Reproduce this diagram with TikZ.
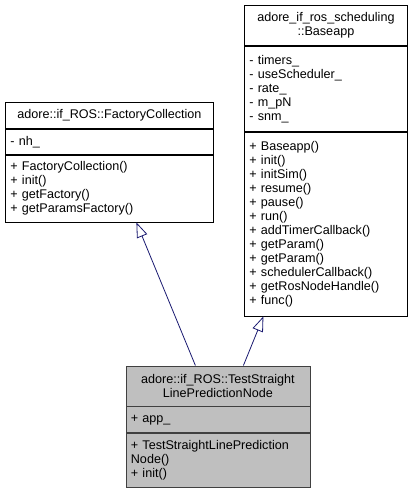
\documentclass[tikz,border=0pt]{standalone}
\usepackage{fontspec}
\setmainfont{Liberation Sans}
\usetikzlibrary{positioning,arrows.meta}
\definecolor{edgeblue}{HTML}{191970}
\definecolor{curfill}{HTML}{BFBFBF}
\definecolor{curdraw}{HTML}{404040}
\tikzset{
  umlfont/.style={font=\fontsize{12.6}{14}\selectfont},
  umltitle/.style={draw, umlfont, line width=0.8pt, align=center, inner xsep=5pt, inner ysep=0pt},
  umlpart/.style={draw, umlfont, line width=0.8pt, align=left, inner xsep=5pt, inner ysep=0pt},
  inherit/.style={draw=edgeblue, line width=0.8pt, -{Triangle[open, length=15pt, width=11pt]}}
}
\begin{document}
\begin{tikzpicture}[x=1pt, y=-1pt]
\useasboundingbox (0,0) rectangle (413,492);

% base class adore::if_ROS::FactoryCollection
\node[umltitle, text width=198pt, minimum height=26pt, anchor=north west] (fcname) at (5,102)
  {adore::if\_ROS::FactoryCollection};
\node[umlpart, text width=198pt, minimum height=25pt, below=0pt of fcname] (fcattr)
  {- nh\_};
\node[umlpart, text width=198pt, minimum height=67pt, below=0pt of fcattr] (fcops)
  {+ FactoryCollection()\\+ init()\\+ getFactory()\\+ getParamsFactory()};

% base class adore_if_ros_scheduling::Baseapp
\node[umltitle, text width=153pt, minimum height=40pt, anchor=north west] (basename) at (244,5)
  {adore\_if\_ros\_scheduling\\::Baseapp};
\node[umlpart, text width=153pt, minimum height=85pt, below=0pt of basename] (baseattr)
  {- timers\_\\- useScheduler\_\\- rate\_\\- m\_pN\\- snm\_};
\node[umlpart, text width=153pt, minimum height=184pt, below=0pt of baseattr] (baseops)
  {+ Baseapp()\\+ init()\\+ initSim()\\+ resume()\\+ pause()\\+ run()\\+ addTimerCallback()\\+ getParam()\\+ getParam()\\+ schedulerCallback()\\+ getRosNodeHandle()\\+ func()};

% derived class
\node[umltitle, fill=curfill, draw=curdraw, text width=174pt, minimum height=40pt, anchor=north west] (nodename) at (125.5,365.5)
  {adore::if\_ROS::TestStraight\\LinePredictionNode};
\node[umlpart, fill=curfill, draw=curdraw, text width=174pt, minimum height=26pt, below=0pt of nodename] (nodeattr)
  {+ app\_};
\node[umlpart, fill=curfill, draw=curdraw, text width=174pt, minimum height=53.5pt, below=0pt of nodeattr] (nodeops)
  {+ TestStraightLinePrediction\\Node()\\+ init()};

% inheritance
\draw[inherit] ([xshift=-22.5pt]nodename.north) -- ([xshift=27pt]fcops.south);
\draw[inherit] ([xshift=25.5pt]nodename.north) -- ([xshift=-62.5pt]baseops.south);
\end{tikzpicture}
\end{document}
